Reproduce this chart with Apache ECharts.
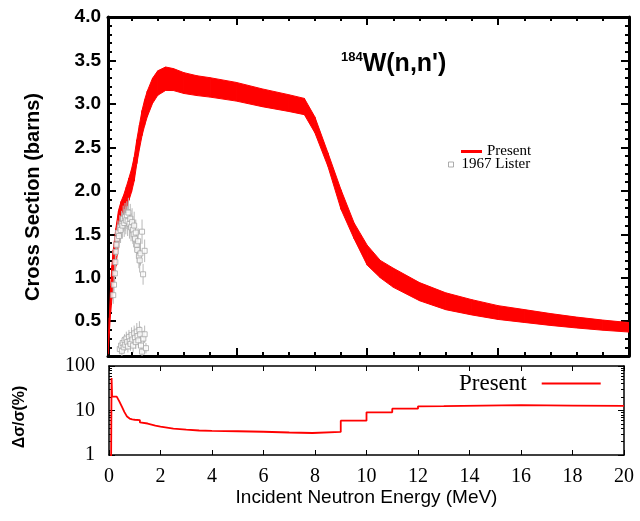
<!DOCTYPE html>
<html><head><meta charset="utf-8">
<script src="https://cdn.jsdelivr.net/npm/echarts@6/dist/echarts.min.js"></script>
<style>html,body{margin:0;padding:0;background:#fff}#c{width:640px;height:521px}</style>
</head><body><div id="c"></div>
<script>
// ---- Present evaluation: cross section band (barns) ----
const bandEnergy = [0.1, 0.15, 0.2, 0.25, 0.3, 0.4, 0.5, 0.6, 0.7, 0.8, 0.9, 1.0, 1.1, 1.2, 1.3, 1.4, 1.5, 1.6, 1.8, 2.0, 2.3, 2.6, 3.0, 3.5, 4.0, 5.0, 6.0, 7.0, 7.6, 8.0, 8.5, 9.0, 9.5, 10.0, 10.5, 11.0, 12.0, 13.0, 14.0, 15.0, 16.0, 17.0, 18.0, 19.0, 20.0];
const bandValue = [0.15, 0.45, 0.75, 0.95, 1.1, 1.35, 1.58, 1.72, 1.82, 1.92, 2.02, 2.12, 2.25, 2.45, 2.62, 2.78, 2.9, 3.0, 3.15, 3.24, 3.29, 3.28, 3.24, 3.21, 3.19, 3.14, 3.07, 3.01, 2.97, 2.76, 2.36, 1.9, 1.54, 1.26, 1.1, 1.0, 0.84, 0.73, 0.66, 0.6, 0.56, 0.52, 0.485, 0.455, 0.43];
const bandUncPct = [20, 20, 20, 20, 20, 16, 12.2, 9.2, 7.3, 6.6, 6.3, 6.2, 6.1, 5.6, 5.3, 5.2, 5.1, 4.9, 4.6, 4.35, 4.1, 3.85, 3.7, 3.55, 3.5, 3.42, 3.33, 3.2, 3.15, 3.3, 3.3, 5.9, 5.9, 9.1, 9.1, 11, 12.4, 13.3, 13.3, 13.2, 13.2, 13.1, 12.9, 12.8, 12.7];

// ---- 1967 Lister experimental data ----
const listerEnergy = [0.30, 0.33, 0.36, 0.38, 0.40, 0.42, 0.45, 0.48, 0.52, 0.55, 0.58, 0.62, 0.65, 0.68, 0.72, 0.75, 0.78, 0.82, 0.85, 0.88, 0.92, 0.95, 0.98, 1.02, 1.05, 1.08, 1.10, 1.13, 1.16, 1.20, 1.22, 1.25, 1.28, 1.31, 1.34, 1.40, 1.44, 1.50,
  0.55, 0.60, 0.63, 0.66, 0.70, 0.73, 0.76, 0.80, 0.83, 0.86, 0.90, 0.93, 0.96, 1.00, 1.03, 1.06, 1.10, 1.13, 1.16, 1.20, 1.23, 1.26, 1.30, 1.33, 1.36, 1.40, 1.45, 1.50, 1.55];
const listerValue = [0.80, 0.92, 1.05, 1.18, 1.30, 1.38, 1.45, 1.52, 1.48, 1.58, 1.55, 1.62, 1.60, 1.68, 1.63, 1.70, 1.66, 1.72, 1.65, 1.75, 1.62, 1.68, 1.58, 1.64, 1.55, 1.50, 1.60, 1.45, 1.52, 1.38, 1.32, 1.42, 1.25, 1.20, 1.28, 1.53, 1.04, 1.31,
  0.18, 0.22, 0.16, 0.25, 0.20, 0.28, 0.23, 0.30, 0.26, 0.21, 0.32, 0.27, 0.24, 0.34, 0.29, 0.22, 0.36, 0.31, 0.26, 0.38, 0.33, 0.28, 0.40, 0.35, 0.22, 0.15, 0.30, 0.35, 0.19];
const listerError = [0.10, 0.10, 0.12, 0.12, 0.12, 0.13, 0.13, 0.14, 0.14, 0.14, 0.15, 0.15, 0.15, 0.15, 0.16, 0.16, 0.16, 0.16, 0.17, 0.17, 0.17, 0.17, 0.16, 0.16, 0.16, 0.15, 0.16, 0.15, 0.15, 0.15, 0.15, 0.15, 0.14, 0.14, 0.14, 0.14, 0.12, 0.13,
  0.06, 0.06, 0.06, 0.07, 0.07, 0.07, 0.07, 0.08, 0.08, 0.07, 0.08, 0.08, 0.08, 0.09, 0.08, 0.08, 0.09, 0.09, 0.08, 0.10, 0.09, 0.09, 0.10, 0.09, 0.08, 0.06, 0.09, 0.10, 0.06];

// ---- Relative uncertainty (%) ----
const uncEnergy = [0.08, 0.1, 0.12, 0.3, 0.4, 0.5, 0.6, 0.7, 0.8, 0.9, 1.0, 1.2, 1.2, 1.5, 1.8, 2.0, 2.5, 3.0, 3.5, 4.0, 5.0, 6.0, 7.0, 7.9, 7.9, 9.0, 9.0, 10.0, 10.0, 11.0, 11.0, 12.0, 12.0, 13.0, 13.0, 16.0, 18.0, 20.0];
const uncPct = [0.5, 54, 20.5, 20.5, 16, 12.2, 9.2, 7.3, 6.6, 6.3, 6.2, 6.1, 5.4, 5.1, 4.6, 4.35, 3.9, 3.7, 3.55, 3.5, 3.42, 3.33, 3.2, 3.12, 3.3, 3.3, 5.9, 5.9, 9.1, 9.1, 11.0, 11.0, 12.4, 12.5, 13.3, 13.2, 12.9, 12.7];

// ---- tick values ----
const xMajorTop = [5, 10, 15, 20];
const xMinorTop = [1, 2, 3, 4, 6, 7, 8, 9, 11, 12, 13, 14, 16, 17, 18, 19];
const yMajorTop = [0.5, 1.0, 1.5, 2.0, 2.5, 3.0, 3.5, 4.0];
const yMinorTop = [0.1, 0.2, 0.3, 0.4, 0.6, 0.7, 0.8, 0.9, 1.1, 1.2, 1.3, 1.4, 1.6, 1.7, 1.8, 1.9, 2.1, 2.2, 2.3, 2.4, 2.6, 2.7, 2.8, 2.9, 3.1, 3.2, 3.3, 3.4, 3.6, 3.7, 3.8, 3.9];
const yMajorBottom = [1, 10, 100];
const yMinorBottom = [2, 3, 4, 5, 6, 7, 8, 9, 20, 30, 40, 50, 60, 70, 80, 90];

const SANS = 'Liberation Sans';
const SERIF = 'Liberation Serif';
const RED = '#ff0000';

function topX(pos, ticks, len, line) {
  return { gridIndex: 0, type: 'value', position: pos, min: 0.1, max: 20,
    axisLine: { show: line, onZero: false, lineStyle: { color: '#000', width: 3 } },
    axisTick: { show: true, inside: true, length: len, customValues: ticks, lineStyle: { color: '#000', width: 2 } },
    axisLabel: { show: false }, splitLine: { show: false } };
}
function topY(pos, ticks, len, line, labels) {
  return { gridIndex: 0, type: 'value', position: pos, min: 0.1, max: 4.0,
    axisLine: { show: line, onZero: false, lineStyle: { color: '#000', width: 3 } },
    axisTick: { show: true, inside: true, length: len, customValues: ticks, lineStyle: { color: '#000', width: 2 } },
    axisLabel: labels ? { show: true, customValues: yMajorTop, formatter: v => v.toFixed(1), fontFamily: SANS, fontWeight: 'bold', fontSize: 19, color: '#000', margin: 7 } : { show: false },
    splitLine: { show: false } };
}
function botY(pos, ticks, len, line, labels) {
  return { gridIndex: 1, type: 'log', logBase: 10, position: pos, min: 1, max: 100,
    axisLine: { show: line, onZero: false, lineStyle: { color: '#000', width: 1.5 } },
    axisTick: { show: true, inside: true, length: len, customValues: ticks, lineStyle: { color: '#000', width: 1 } },
    axisLabel: labels ? { show: true, customValues: yMajorBottom, fontFamily: SERIF, fontSize: 20, color: '#000', margin: 14 } : { show: false },
    splitLine: { show: false }, minorTick: { show: false } };
}

const chart = echarts.init(document.getElementById('c'), null, { renderer: 'canvas' });
chart.setOption({
  animation: false,
  backgroundColor: '#fff',
  grid: [
    { left: 108, top: 17, width: 521, height: 339 },
    { left: 109, top: 366, width: 515, height: 89 }
  ],
  title: {
    text: '{s|184}{m|W(n,n\')}', left: 336, top: 46,
    textStyle: { rich: {
      s: { fontFamily: SANS, fontWeight: 'bold', fontSize: 13, verticalAlign: 'top', lineHeight: 26, color: '#000' },
      m: { fontFamily: SANS, fontWeight: 'bold', fontSize: 25, lineHeight: 26, color: '#000' }
    } }
  },
  legend: [
    { data: [{ name: 'Present', icon: 'rect', itemStyle: { color: RED, borderWidth: 0 } }], selectedMode: false,
      left: 461, top: 144, itemWidth: 21, itemHeight: 3, padding: 0,
      textStyle: { fontFamily: SERIF, fontSize: 15, color: '#000' } },
    { data: [{ name: '1967 Lister', icon: 'rect', itemStyle: { color: '#fff', borderColor: '#999', borderWidth: 1 } }], selectedMode: false,
      left: 448, top: 157, itemWidth: 5, itemHeight: 5, padding: 0,
      textStyle: { fontFamily: SERIF, fontSize: 15, color: '#000', padding: [0, 0, 0, 3] } },
    { data: [{ name: 'Present', icon: 'rect', itemStyle: { color: RED, borderWidth: 0 } }], selectedMode: false,
      align: 'right', left: 459, top: 372, itemWidth: 59, itemHeight: 2, padding: 0,
      textStyle: { fontFamily: SERIF, fontSize: 23, color: '#000', padding: [0, 10, 0, 0] } }
  ],
  graphic: [
    { type: 'text', x: 33, y: 197, rotation: Math.PI / 2,
      style: { text: 'Cross Section (barns)', font: 'bold 20px "Liberation Sans"', fill: '#000', textAlign: 'center', textVerticalAlign: 'middle' } },
    { type: 'text', x: 20, y: 417, rotation: Math.PI / 2,
      style: { text: 'Δσ/σ(%)', font: 'bold 16px "Liberation Sans"', fill: '#000', textAlign: 'center', textVerticalAlign: 'middle' } }
  ],
  xAxis: [
    topX('bottom', xMajorTop, 8, true),
    topX('bottom', xMinorTop, 4, false),
    topX('top', xMajorTop, 8, true),
    topX('top', xMinorTop, 4, false),
    { gridIndex: 1, type: 'value', position: 'bottom', min: 0, max: 20, interval: 2,
      name: 'Incident Neutron Energy (MeV)', nameLocation: 'middle', nameGap: 33,
      nameTextStyle: { fontFamily: SANS, fontSize: 19, color: '#000' },
      axisLine: { onZero: false, lineStyle: { color: '#000', width: 1.5 } },
      axisTick: { inside: true, length: 5, lineStyle: { color: '#000', width: 1 } },
      axisLabel: { fontFamily: SERIF, fontSize: 20, color: '#000', margin: 12 },
      splitLine: { show: false } },
    { gridIndex: 1, type: 'value', position: 'top', min: 0, max: 20, interval: 2,
      axisLine: { onZero: false, lineStyle: { color: '#000', width: 1.5 } },
      axisTick: { inside: true, length: 5, lineStyle: { color: '#000', width: 1 } },
      axisLabel: { show: false }, splitLine: { show: false } }
  ],
  yAxis: [
    topY('left', yMajorTop, 8, true, true),
    topY('left', yMinorTop, 4, false, false),
    topY('right', yMajorTop, 8, true, false),
    topY('right', yMinorTop, 4, false, false),
    botY('left', yMajorBottom, 6, true, true),
    botY('left', yMinorBottom, 3, false, false),
    botY('right', yMajorBottom, 6, true, false),
    botY('right', yMinorBottom, 3, false, false)
  ],
  series: [
    { name: 'Present', type: 'custom', xAxisIndex: 0, yAxisIndex: 0, clip: true,
      data: bandEnergy.map((e, i) => [e, bandValue[i] * (1 - bandUncPct[i] / 100), bandValue[i] * (1 + bandUncPct[i] / 100)]),
      encode: { x: 0, y: [1, 2] },
      renderItem: function (params, api) {
        const i = params.dataIndex;
        if (i >= bandEnergy.length - 1) return null;
        const lo0 = bandValue[i] * (1 - bandUncPct[i] / 100), hi0 = bandValue[i] * (1 + bandUncPct[i] / 100);
        const lo1 = bandValue[i + 1] * (1 - bandUncPct[i + 1] / 100), hi1 = bandValue[i + 1] * (1 + bandUncPct[i + 1] / 100);
        const pts = [api.coord([bandEnergy[i], lo0]), api.coord([bandEnergy[i], hi0]), api.coord([bandEnergy[i + 1], hi1]), api.coord([bandEnergy[i + 1], lo1])];
        return { type: 'polygon', shape: { points: pts }, style: { fill: RED, stroke: RED, lineWidth: 1 } };
      }
    },
    { name: 'lister-err', type: 'custom', xAxisIndex: 0, yAxisIndex: 0, clip: true,
      data: listerEnergy.map((e, i) => [e, listerValue[i] - listerError[i], listerValue[i] + listerError[i]]),
      encode: { x: 0, y: [1, 2] },
      renderItem: function (params, api) {
        const p1 = api.coord([api.value(0), api.value(1)]);
        const p2 = api.coord([api.value(0), api.value(2)]);
        return { type: 'line', shape: { x1: p1[0], y1: p1[1], x2: p2[0], y2: p2[1] }, style: { stroke: '#b8b8b8', lineWidth: 1 } };
      }
    },
    { name: '1967 Lister', type: 'scatter', xAxisIndex: 0, yAxisIndex: 0, clip: true,
      data: listerEnergy.map((e, i) => [e, listerValue[i]]),
      symbol: 'rect', symbolSize: 5,
      itemStyle: { color: '#fff', borderColor: '#a8a8a8', borderWidth: 1 } },
    { name: 'Present', type: 'line', xAxisIndex: 4, yAxisIndex: 4, clip: true,
      data: uncEnergy.map((e, i) => [e, uncPct[i]]),
      symbol: 'none', lineStyle: { color: RED, width: 1.8 }, itemStyle: { color: RED } }
  ]
});
</script>
</body></html>
